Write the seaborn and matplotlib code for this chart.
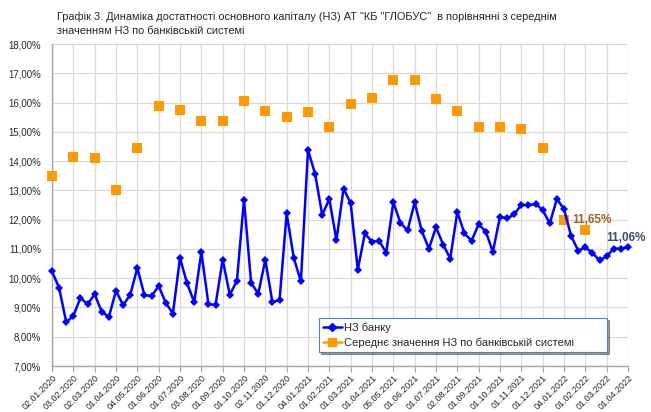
import matplotlib
matplotlib.use("Agg")
import matplotlib.pyplot as plt
import matplotlib.ticker as mticker
from matplotlib.lines import Line2D
import numpy as np
import pandas as pd
import seaborn as sns

title = ('Графік 3. Динаміка достатності основного капіталу (НЗ) АТ "КБ "ГЛОБУС"  в порівнянні з середнім\n'
         'значенням НЗ по банківській системі')

tick_labels = ['02.01.2020', '03.02.2020', '02.03.2020', '01.04.2020', '04.05.2020', '01.06.2020',
               '01.07.2020', '03.08.2020', '01.09.2020', '01.10.2020', '02.11.2020', '01.12.2020',
               '04.01.2021', '01.02.2021', '01.03.2021', '01.04.2021', '05.05.2021', '01.06.2021',
               '01.07.2021', '02.08.2021', '01.09.2021', '01.10.2021', '01.11.2021', '01.12.2021',
               '04.01.2022', '01.02.2022', '01.03.2022', '01.04.2022']

# bank ratio, three readings per month (decades), %
bank_nz = [10.23, 9.67, 8.50, 8.71, 9.33, 9.11, 9.45, 8.85, 8.68, 9.57, 9.08, 9.43,
           10.35, 9.42, 9.39, 9.73, 9.16, 8.79, 10.69, 9.82, 9.18, 10.89, 9.11, 9.09,
           10.63, 9.44, 9.90, 12.68, 9.84, 9.47, 10.63, 9.17, 9.26, 12.21, 10.69, 9.89,
           14.38, 13.56, 12.16, 12.70, 11.30, 13.06, 12.56, 10.29, 11.53, 11.24, 11.28, 10.87,
           12.59, 11.89, 11.63, 12.59, 11.61, 11.01, 11.74, 11.15, 10.67, 12.26, 11.53, 11.28,
           11.84, 11.59, 10.90, 12.10, 12.04, 12.18, 12.51, 12.49, 12.54, 12.33, 11.87, 12.71,
           12.36, 11.44, 10.94, 11.05, 10.86, 10.61, 10.75, 11.01, 11.01, 11.06]

# banking-system average, one reading per month, %
system_nz = [13.50, 14.13, 14.11, 13.00, 14.45, 15.88, 15.75, 15.38, 15.36, 16.05, 15.72, 15.49,
             15.66, 15.15, 15.94, 16.17, 16.76, 16.76, 16.11, 15.70, 15.17, 15.16, 15.08, 14.44,
             11.99, 11.65]

bank_df = pd.DataFrame({"pos": np.arange(len(bank_nz)), "value": bank_nz})
sys_df = pd.DataFrame({"pos": np.arange(len(system_nz)) * 3, "value": system_nz})

sns.set_style("white")
plt.rcParams['font.family'] = ['Liberation Sans Narrow', 'Liberation Sans', 'DejaVu Sans']

blue = '#0000FF'
orange = '#FF9900'

fig = plt.figure(figsize=(6.51, 4.12), dpi=100)
ax = fig.add_axes([52 / 651, 1 - 366 / 412, 576 / 651, 322 / 412])

sns.lineplot(data=bank_df, x="pos", y="value", ax=ax, color=blue, linewidth=1.8,
             marker='D', markersize=4, markeredgewidth=0, clip_on=False, zorder=4)
sns.scatterplot(data=sys_df, x="pos", y="value", ax=ax, color=orange, marker='s',
                s=48, linewidth=0, clip_on=False, zorder=3)

ax.set_xlim(0, len(bank_nz) - 1)
ax.set_ylim(7, 18)
ax.set_xticks(np.arange(len(tick_labels)) * 3)
ax.set_xticklabels(tick_labels, rotation=45, ha='right', rotation_mode='anchor', fontsize=6.5)
ax.yaxis.set_major_locator(mticker.MultipleLocator(1))
ax.yaxis.set_major_formatter(mticker.FuncFormatter(lambda v, p: f"{v:.2f}%".replace('.', ',')))
ax.tick_params(axis='y', labelsize=6.9, length=0, pad=8)
ax.tick_params(axis='x', length=4, color='#A6A6A6', direction='out', bottom=True, pad=1)
ax.set_xlabel('')
ax.set_ylabel('')

ax.grid(True, color='#D9D9D9', linewidth=0.9)
ax.set_axisbelow(True)
for side in ['top', 'right']:
    ax.spines[side].set_visible(False)
for side in ['left', 'bottom']:
    ax.spines[side].set_color('#A6A6A6')
    ax.spines[side].set_linewidth(1.0)

# data labels on the last points
ax.annotate(f"{system_nz[-1]:.2f}%".replace('.', ','), xy=(sys_df.pos.iloc[-1], system_nz[-1]),
            xytext=(7, 10), textcoords='offset pixels', ha='center', va='center',
            fontsize=8.5, fontweight='bold', color='#A0612A')
ax.annotate(f"{bank_nz[-1]:.2f}%".replace('.', ','), xy=(bank_df.pos.iloc[-1], bank_nz[-1]),
            xytext=(-2, 9), textcoords='offset pixels', ha='center', va='center',
            fontsize=8.5, fontweight='bold', color='#3C4F6B', annotation_clip=False)

handles = [Line2D([], [], color=blue, marker='D', markersize=4, linewidth=1.8),
           Line2D([], [], color=orange, marker='s', markersize=6, linewidth=1.8)]
leg = ax.legend(handles, ['НЗ банку', 'Середнє значення НЗ по банківській системі'],
                loc='lower left', bbox_to_anchor=(267 / 576, 14 / 322, 288 / 576, 0),
                mode='expand', borderaxespad=0,
                fontsize=8, frameon=True, fancybox=False,
                shadow={'ox': 1.5, 'oy': -1.5, 'color': '#404040'},
                handlelength=1.7, handletextpad=0.2, borderpad=0.35, labelspacing=0.45)
leg.get_frame().set_edgecolor('#5B7FA6')
leg.get_frame().set_linewidth(0.8)

fig.text(57 / 651, 1 - 12 / 412, title, ha='left', va='top', fontsize=7.9, linespacing=1.45)

fig.savefig("out.png", dpi=100)
